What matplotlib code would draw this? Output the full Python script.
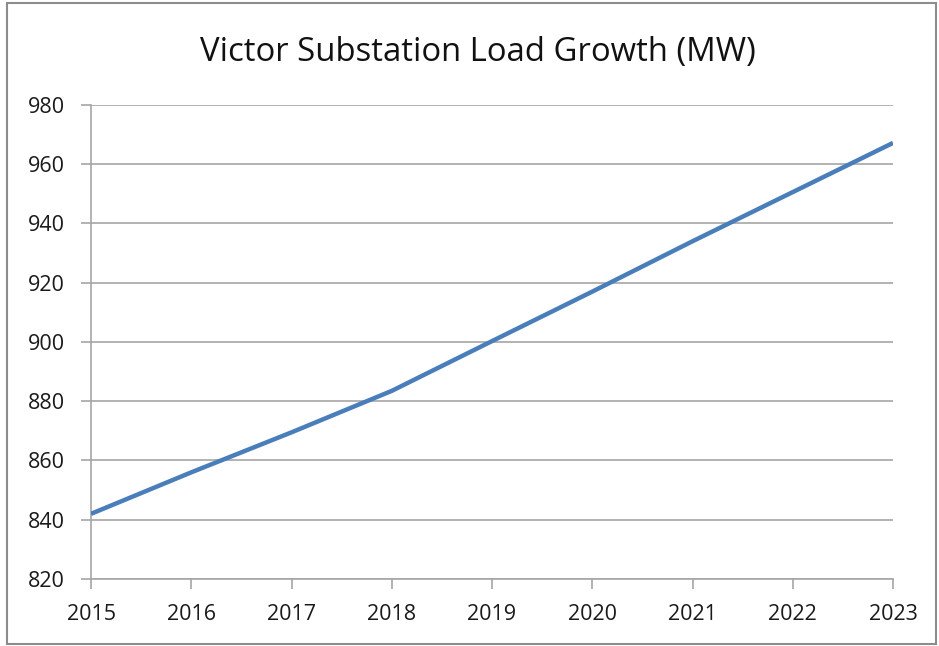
import matplotlib.pyplot as plt
from matplotlib.patches import Rectangle

years = [2015, 2016, 2017, 2018, 2019, 2020, 2021, 2022, 2023]
load_mw = [842, 856, 869.5, 883.5, 900.3, 917, 934, 950.6, 967.2]
y_ticks = [820, 840, 860, 880, 900, 920, 940, 960, 980]

plt.rcParams['font.family'] = ['Open Sans', 'DejaVu Sans']

fig = plt.figure(figsize=(9.39, 6.46), dpi=100)
ax = fig.add_axes([91 / 939, 67 / 646, 802 / 939, 474 / 646])

# frame round the whole chart
fig.patches.append(Rectangle((7 / 939, 2 / 646), 929 / 939, 641 / 646,
                             transform=fig.transFigure, fill=False,
                             edgecolor='#8c8c8c', linewidth=1.5))

grid_col = '#a6a6a6'
ax.plot(years, load_mw, color='#4a7ebb', linewidth=3.2, solid_capstyle='butt', zorder=3)

ax.set_xlim(2015, 2023)
ax.set_ylim(820, 980)
ax.set_xticks(years)
ax.set_yticks(y_ticks)
ax.yaxis.grid(True, color=grid_col, linewidth=1.2)
ax.set_axisbelow(True)

for side in ['top', 'right']:
    ax.spines[side].set_visible(False)
for side in ['left', 'bottom']:
    ax.spines[side].set_color(grid_col)
    ax.spines[side].set_linewidth(1.2)

ax.tick_params(axis='both', colors=grid_col, labelcolor='#1a1a1a', labelsize=15.5,
               length=7, width=1.2)
ax.tick_params(axis='y', pad=12)
ax.tick_params(axis='x', pad=11)

fig.text(0.5085, 1 - 52 / 646, 'Victor Substation Load Growth (MW)', ha='center',
         va='center', fontsize=23.7, color='#111111')

fig.savefig('out.png', dpi=100)
